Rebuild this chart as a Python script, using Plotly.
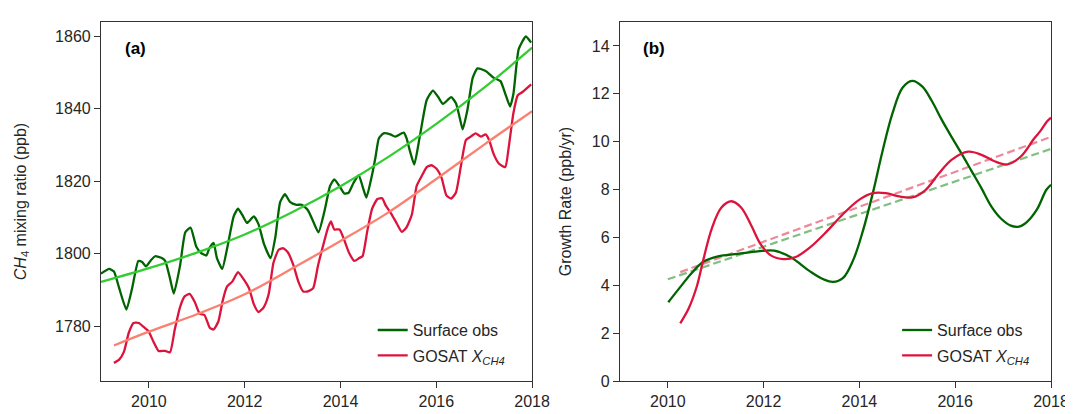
import plotly.graph_objects as go

# ---------------- Panel (a): CH4 mixing ratio (ppb) ----------------
surf_year = [2009.00, 2009.17, 2009.27, 2009.38, 2009.53, 2009.65, 2009.78, 2009.86, 2009.94,
             2010.03, 2010.13, 2010.27, 2010.34, 2010.44, 2010.52, 2010.65, 2010.76, 2010.87,
             2010.99, 2011.09, 2011.20, 2011.26, 2011.35, 2011.42, 2011.53, 2011.64, 2011.77,
             2011.86, 2011.95, 2012.05, 2012.19, 2012.29, 2012.40, 2012.54, 2012.64, 2012.74,
             2012.84, 2012.95, 2013.08, 2013.19, 2013.32, 2013.43, 2013.54, 2013.67, 2013.78,
             2013.87, 2013.98, 2014.08, 2014.17, 2014.27, 2014.38, 2014.46, 2014.54, 2014.65,
             2014.73, 2014.80, 2014.90, 2015.04, 2015.14, 2015.32, 2015.38, 2015.45, 2015.54,
             2015.66, 2015.80, 2015.93, 2016.04, 2016.14, 2016.31, 2016.41, 2016.48, 2016.55,
             2016.65, 2016.76, 2016.86, 2017.03, 2017.20, 2017.34, 2017.44, 2017.54, 2017.61,
             2017.72, 2017.87, 2017.98]
surf_ppb = [1794.5, 1795.8, 1795.1, 1790.5, 1784.6, 1790.5, 1798.0, 1797.7, 1796.5,
            1798.0, 1799.3, 1798.8, 1798.0, 1793.2, 1789.0, 1796.7, 1805.9, 1807.2,
            1801.9, 1800.2, 1799.5, 1801.5, 1803.0, 1798.8, 1795.8, 1801.9, 1810.3,
            1812.4, 1810.7, 1808.5, 1810.3, 1808.1, 1802.8, 1798.8, 1804.6, 1814.2,
            1816.4, 1814.2, 1813.5, 1813.5, 1812.0, 1808.9, 1805.9, 1812.0, 1818.6,
            1820.5, 1818.6, 1816.6, 1816.8, 1819.5, 1821.7, 1818.6, 1815.5, 1821.2,
            1826.6, 1831.8, 1833.2, 1832.9, 1832.3, 1833.4, 1831.8, 1828.3, 1824.6,
            1832.7, 1842.4, 1845.0, 1843.2, 1841.3, 1843.2, 1841.5, 1838.0, 1834.3,
            1839.7, 1848.5, 1851.1, 1850.4, 1848.5, 1847.6, 1844.1, 1840.6, 1844.1,
            1856.4, 1859.9, 1858.2]

gosat_year = [2009.27, 2009.38, 2009.48, 2009.58, 2009.68, 2009.79, 2009.89, 2009.99, 2010.10,
              2010.20, 2010.34, 2010.44, 2010.54, 2010.65, 2010.75, 2010.85, 2010.96, 2011.06,
              2011.16, 2011.27, 2011.35, 2011.45, 2011.54, 2011.63, 2011.74, 2011.86, 2011.99,
              2012.09, 2012.19, 2012.29, 2012.40, 2012.50, 2012.60, 2012.71, 2012.81, 2012.91,
              2013.02, 2013.12, 2013.22, 2013.32, 2013.43, 2013.53, 2013.63, 2013.74, 2013.80,
              2013.87, 2013.98, 2014.08, 2014.18, 2014.29, 2014.39, 2014.46, 2014.56, 2014.66,
              2014.77, 2014.87, 2014.94, 2015.07, 2015.18, 2015.28, 2015.38, 2015.49, 2015.59,
              2015.69, 2015.80, 2015.90, 2016.00, 2016.11, 2016.21, 2016.31, 2016.41, 2016.51,
              2016.62, 2016.72, 2016.82, 2016.93, 2017.03, 2017.10, 2017.20, 2017.31, 2017.44,
              2017.51, 2017.61, 2017.70, 2017.80, 2017.98]
gosat_ppb = [1769.9, 1770.8, 1773.0, 1778.2, 1780.9, 1780.9, 1779.8, 1778.7, 1775.6,
             1773.2, 1773.2, 1772.8, 1779.1, 1785.3, 1788.3, 1788.9, 1786.6, 1783.5,
             1783.1, 1779.6, 1779.1, 1781.3, 1787.0, 1790.9, 1792.3, 1794.9, 1792.7,
             1790.5, 1786.1, 1783.9, 1785.3, 1788.8, 1797.5, 1801.1, 1801.5, 1800.2,
             1796.7, 1792.3, 1789.6, 1789.6, 1790.5, 1796.7, 1801.9, 1807.2, 1808.9,
             1806.7, 1806.7, 1803.7, 1800.2, 1798.0, 1798.8, 1799.3, 1806.3, 1812.4,
             1815.1, 1815.3, 1813.4, 1810.8, 1808.2, 1806.0, 1807.3, 1810.8, 1818.7,
             1821.3, 1823.9, 1824.4, 1823.5, 1820.9, 1816.1, 1815.2, 1816.9, 1823.9,
             1831.4, 1832.3, 1833.2, 1832.3, 1832.9, 1831.4, 1827.4, 1824.8, 1823.9,
             1829.2, 1838.8, 1843.7, 1844.6, 1846.7]

surf_fit_year = [2009, 2010, 2011, 2012, 2013, 2014, 2015, 2016, 2017, 2018]
surf_fit_ppb = [1792.2, 1796.0, 1800.3, 1805.3, 1811.5, 1818.6, 1826.7, 1835.8, 1845.8, 1856.8]

gosat_fit_year = [2009.27, 2010, 2011, 2012, 2013, 2014, 2015, 2016, 2017, 2018]
gosat_fit_ppb = [1774.7, 1778.5, 1783.3, 1788.8, 1796.0, 1803.5, 1811.4, 1820.6, 1830.1, 1839.3]

# ---------------- Panel (b): growth rate (ppb/yr) ----------------
surf_gr_year = [2010.01, 2010.23, 2010.50, 2010.74, 2011.05, 2011.46, 2011.88, 2012.22, 2012.56,
                2012.97, 2013.25, 2013.45, 2013.66, 2013.87, 2014.07, 2014.28, 2014.48, 2014.69,
                2014.90, 2015.10, 2015.31, 2015.51, 2015.72, 2015.93, 2016.13, 2016.34, 2016.55,
                2016.75, 2016.96, 2017.16, 2017.33, 2017.50, 2017.71, 2017.90, 2018.00]
surf_gr = [3.29, 3.85, 4.51, 4.98, 5.21, 5.31, 5.42, 5.45, 5.18,
           4.58, 4.25, 4.14, 4.31, 5.05, 6.25, 7.85, 9.58, 11.18,
           12.25, 12.54, 12.31, 11.71, 10.91, 10.18, 9.51, 8.78, 8.05,
           7.31, 6.78, 6.49, 6.45, 6.65, 7.18, 7.98, 8.20]

gosat_gr_year = [2010.26, 2010.44, 2010.61, 2010.74, 2010.92, 2011.12, 2011.33, 2011.53, 2011.74,
                 2011.94, 2012.15, 2012.42, 2012.67, 2012.97, 2013.32, 2013.66, 2014.00, 2014.28,
                 2014.55, 2014.83, 2015.10, 2015.38, 2015.65, 2015.93, 2016.27, 2016.55, 2016.82,
                 2017.09, 2017.37, 2017.64, 2017.78, 2017.92, 2018.00]
gosat_gr = [2.41, 3.05, 3.98, 5.05, 6.38, 7.25, 7.51, 7.25, 6.51,
            5.71, 5.25, 5.09, 5.18, 5.58, 6.25, 6.98, 7.58, 7.85,
            7.85, 7.71, 7.67, 7.98, 8.65, 9.25, 9.58, 9.45, 9.18,
            9.05, 9.38, 10.11, 10.45, 10.85, 11.00]

surf_trend_year = [2010.0, 2018.0]
surf_trend = [4.25, 9.70]
gosat_trend_year = [2010.26, 2018.0]
gosat_trend = [4.55, 10.20]

x_ticks = [2010, 2012, 2014, 2016, 2018]
y1_ticks = [1780, 1800, 1820, 1840, 1860]
y2_ticks = [0, 2, 4, 6, 8, 10, 12, 14]

DARKGREEN = "#006400"
LIMEGREEN = "#32CD32"
CRIMSON = "#DC143C"
SALMON = "#FA8072"
TXT = "#262626"
FONT = "Liberation Sans, Arial, sans-serif"
FS = 16

fig = go.Figure()

# panel a
fig.add_trace(go.Scatter(x=surf_year, y=surf_ppb, mode="lines", name="Surface obs",
                         line=dict(color=DARKGREEN, width=2.3, shape="spline", smoothing=0.5),
                         xaxis="x", yaxis="y", legend="legend"))
fig.add_trace(go.Scatter(x=gosat_year, y=gosat_ppb, mode="lines", name="GOSAT <i>X<sub>CH4</sub></i>",
                         line=dict(color=CRIMSON, width=2.3, shape="spline", smoothing=0.5),
                         xaxis="x", yaxis="y", legend="legend2"))
fig.add_trace(go.Scatter(x=surf_fit_year, y=surf_fit_ppb, mode="lines", showlegend=False,
                         line=dict(color=LIMEGREEN, width=2.3, shape="spline"),
                         xaxis="x", yaxis="y"))
fig.add_trace(go.Scatter(x=gosat_fit_year, y=gosat_fit_ppb, mode="lines", showlegend=False,
                         line=dict(color=SALMON, width=2.3, shape="spline"),
                         xaxis="x", yaxis="y"))

# panel b
fig.add_trace(go.Scatter(x=surf_trend_year, y=surf_trend, mode="lines", showlegend=False,
                         line=dict(color="rgba(0,128,0,0.5)", width=2.2, dash="8px,4px"),
                         xaxis="x2", yaxis="y2"))
fig.add_trace(go.Scatter(x=gosat_trend_year, y=gosat_trend, mode="lines", showlegend=False,
                         line=dict(color="rgba(220,20,60,0.5)", width=2.2, dash="8px,4px"),
                         xaxis="x2", yaxis="y2"))
fig.add_trace(go.Scatter(x=surf_gr_year, y=surf_gr, mode="lines", name="Surface obs",
                         line=dict(color=DARKGREEN, width=2.3, shape="spline"),
                         xaxis="x2", yaxis="y2", legend="legend3"))
fig.add_trace(go.Scatter(x=gosat_gr_year, y=gosat_gr, mode="lines", name="GOSAT <i>X<sub>CH4</sub></i>",
                         line=dict(color=CRIMSON, width=2.3, shape="spline"),
                         xaxis="x2", yaxis="y2", legend="legend4"))

axis_common = dict(showline=True, linecolor="#333333", linewidth=1.2, mirror=True,
                   ticks="outside", ticklen=6, tickwidth=1.2, tickcolor="#333333",
                   showgrid=False, zeroline=False,
                   tickfont=dict(family=FONT, size=FS, color=TXT))

leg_common = dict(bgcolor="rgba(0,0,0,0)", font=dict(family=FONT, size=FS, color=TXT),
                  xanchor="left", yanchor="middle")

fig.update_layout(
    width=1073, height=414,
    margin=dict(l=91, r=19, t=14, b=24),
    paper_bgcolor="white", plot_bgcolor="white",
    font=dict(family=FONT, size=FS, color=TXT),
    xaxis=dict(domain=[0, 0.4538], range=[2009, 2018], tickvals=x_ticks, anchor="y", **axis_common),
    yaxis=dict(domain=[0, 1], range=[1764.9, 1863.9], tickvals=y1_ticks, anchor="x",
               title=dict(text="<i>CH</i><sub>4</sub> mixing ratio (ppb)", standoff=24,
                          font=dict(family=FONT, size=FS, color=TXT)), **axis_common),
    xaxis2=dict(domain=[0.5462, 1], range=[2009, 2018], tickvals=x_ticks, anchor="y2", **axis_common),
    yaxis2=dict(domain=[0, 1], range=[0, 15], tickvals=y2_ticks, anchor="x2",
                title=dict(text="Growth Rate (ppb/yr)", standoff=16,
                           font=dict(family=FONT, size=FS, color=TXT)), **axis_common),
    legend=dict(x=0.2860, y=0.1418, **leg_common),
    legend2=dict(x=0.2860, y=0.071, **leg_common),
    legend3=dict(x=0.8380, y=0.1418, **leg_common),
    legend4=dict(x=0.8380, y=0.071, **leg_common),
    annotations=[
        dict(text="<b>(a)</b>", xref="x domain", yref="y domain", x=0.08, y=0.925,
             showarrow=False, xanchor="center", yanchor="middle",
             font=dict(family=FONT, size=17, color="black")),
        dict(text="<b>(b)</b>", xref="x2 domain", yref="y2 domain", x=0.078, y=0.925,
             showarrow=False, xanchor="center", yanchor="middle",
             font=dict(family=FONT, size=17, color="black")),
    ],
)

fig.write_html("out.html")
